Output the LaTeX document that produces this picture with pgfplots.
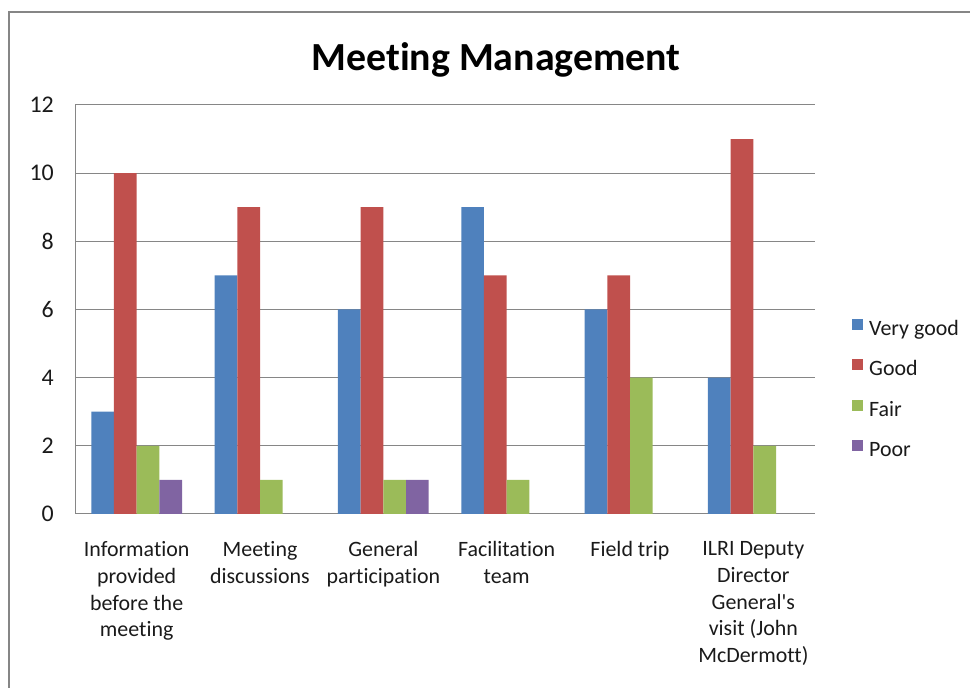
\documentclass[border=0pt]{standalone}
\usepackage{fontspec}
\setmainfont{Carlito}[Ligatures=NoCommon]
\usepackage{pgfplots}
\pgfplotsset{compat=1.18}
\definecolor{cblue}{HTML}{4F81BD}
\definecolor{cred}{HTML}{C0504D}
\definecolor{cgreen}{HTML}{9BBB59}
\definecolor{cpurple}{HTML}{8064A2}
\definecolor{cgrid}{HTML}{868686}
\definecolor{ctext}{HTML}{1A1A1A}
\begin{document}
\begin{tikzpicture}[x=1bp,y=1bp]
\useasboundingbox (0,0) rectangle (970,688);
\draw[cgrid, line width=2bp] (9,0) -- (9,676) -- (970,676);
\begin{axis}[
  at={(75bp,174bp)}, anchor=south west,
  scale only axis, width=740bp, height=409bp,
  ybar=0pt, bar width=22.7bp,
  xmin=-0.5, xmax=5.5, ymin=0, ymax=12,
  ytick={0,2,...,12},
  xtick={0,1,2,3,4,5},
  xticklabels={{Information\\provided\\before the\\meeting},{Meeting\\discussions},{General\\participation},{Facilitation\\team},{Field trip},{ILRI Deputy\\Director\\General\textquotesingle s\\visit (John\\McDermott)}},
  major tick length=0pt,
  axis x line*=bottom, axis y line*=left,
  axis line style={draw=cgrid, line width=1bp, -},
  ymajorgrids, grid style={draw=cgrid, line width=1bp},
  /pgf/number format/assume math mode=true,
  tick label style={font=\fontsize{22}{27}\selectfont, text=ctext},
  yticklabel style={anchor=east, inner sep=0pt, xshift=-21bp, font=\fontsize{24}{27}\selectfont},
  xticklabel style={anchor=north, inner sep=0pt, yshift=-27bp, align=center},
  title={Meeting Management},
  title style={at={(axis description cs:0.569,1)}, anchor=base, yshift=29bp, font=\fontsize{40}{42}\selectfont\bfseries, text=black},
  legend style={at={(1.05,0.303)}, anchor=west, draw=none, fill=none,
    font=\fontsize{22}{27}\selectfont, text=ctext,
    row sep=19bp, column sep=6bp, inner sep=0pt,
    nodes={inner sep=0pt, text height=15bp, text depth=5bp}},
  legend cell align=left,
  legend image code/.code={\fill[#1] (0bp,0.5bp) rectangle (11bp,11.5bp);},
]
\addplot[fill=cblue, draw=none] coordinates {(0,3) (1,7) (2,6) (3,9) (4,6) (5,4)};
\addplot[fill=cred, draw=none] coordinates {(0,10) (1,9) (2,9) (3,7) (4,7) (5,11)};
\addplot[fill=cgreen, draw=none] coordinates {(0,2) (1,1) (2,1) (3,1) (4,4) (5,2)};
\addplot[fill=cpurple, draw=none] coordinates {(0,1) (2,1)};
\legend{Very good, Good, Fair, Poor}
\end{axis}
\end{tikzpicture}
\end{document}
